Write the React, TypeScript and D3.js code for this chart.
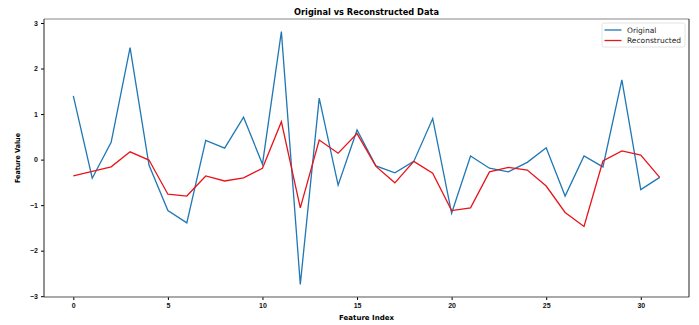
import { useEffect, useRef } from 'react'
import * as d3 from 'd3'

const featureIndex = d3.range(32)

const original = [
  1.40, -0.41, 0.38, 2.46, -0.12, -1.12, -1.39, 0.42, 0.25, 0.93,
  -0.10, 2.81, -2.74, 1.35, -0.56, 0.65, -0.14, -0.29, -0.04, 0.90,
  -1.18, 0.08, -0.19, -0.27, -0.06, 0.26, -0.80, 0.08, -0.16, 1.75,
  -0.66, -0.39
]

const reconstructed = [
  -0.36, -0.26, -0.16, 0.17, -0.01, -0.76, -0.80, -0.36, -0.47, -0.40,
  -0.19, 0.83, -1.06, 0.43, 0.14, 0.57, -0.15, -0.51, -0.04, -0.30,
  -1.12, -1.06, -0.27, -0.17, -0.23, -0.58, -1.16, -1.47, -0.03, 0.19,
  0.10, -0.39
]

const xTicks = [0, 5, 10, 15, 20, 25, 30]
const yTicks = [-3, -2, -1, 0, 1, 2, 3]

const series = [
  { name: 'Original', values: original, color: '#1f77b4' },
  { name: 'Reconstructed', values: reconstructed, color: '#e8141b' }
]

export default function App() {
  const svgRef = useRef<SVGSVGElement>(null)

  useEffect(() => {
    const width = 699
    const height = 325
    const margin = { top: 19, right: 10, bottom: 28, left: 44 }

    const svg = d3.select(svgRef.current)
      .attr('width', width)
      .attr('height', height)
      .style('display', 'block')
      .style('font-family', '"DejaVu Sans", sans-serif')

    svg.selectAll('*').remove()

    const all = original.concat(reconstructed)
    const yMin = d3.min(all) as number
    const yMax = d3.max(all) as number
    const yPad = (yMax - yMin) * 0.05

    const x = d3.scaleLinear()
      .domain([-1.55, 32.55])
      .range([margin.left, width - margin.right])

    const y = d3.scaleLinear()
      .domain([yMin - yPad, yMax + yPad])
      .range([height - margin.bottom, margin.top])

    const g = svg.append('g')

    // lines
    const line = d3.line<number>()
      .x((d, i) => x(featureIndex[i]))
      .y(d => y(d))

    series.forEach(s => {
      g.append('path')
        .datum(s.values)
        .attr('fill', 'none')
        .attr('stroke', s.color)
        .attr('stroke-width', 1.3)
        .attr('d', line)
    })

    // X axis
    const xAxis = g.append('g')
      .attr('transform', `translate(0,${height - margin.bottom})`)
      .call(d3.axisBottom(x).tickValues(xTicks).tickSize(3).tickPadding(3).tickFormat(d3.format('d')))
    xAxis.select('.domain').remove()
    xAxis.selectAll('text')
      .attr('fill', '#111')
      .attr('font-size', 7)
      .attr('font-weight', 'bold')

    // Y axis
    const yAxis = g.append('g')
      .attr('transform', `translate(${margin.left},0)`)
      .call(d3.axisLeft(y).tickValues(yTicks).tickSize(3).tickPadding(3).tickFormat(d => d3.format('d')(d as number).replace('-', '\u2212')))
    yAxis.select('.domain').remove()
    yAxis.selectAll('text')
      .attr('fill', '#111')
      .attr('font-size', 7)
      .attr('font-weight', 'bold')

    // spines
    const x0 = margin.left
    const x1 = width - margin.right
    const y0 = margin.top
    const y1 = height - margin.bottom
    g.append('line').attr('x1', x0).attr('x2', x1).attr('y1', y0).attr('y2', y0)
      .attr('stroke', '#888').attr('stroke-width', 1.2)
    g.append('line').attr('x1', x0).attr('x2', x1).attr('y1', y1).attr('y2', y1)
      .attr('stroke', '#555').attr('stroke-width', 1.2)
    g.append('line').attr('x1', x0).attr('x2', x0).attr('y1', y0).attr('y2', y1)
      .attr('stroke', '#222').attr('stroke-width', 1)
    g.append('line').attr('x1', x1).attr('x2', x1).attr('y1', y0).attr('y2', y1)
      .attr('stroke', '#222').attr('stroke-width', 1)

    // title and labels
    svg.append('text')
      .attr('x', (x0 + x1) / 2)
      .attr('y', 15)
      .attr('text-anchor', 'middle')
      .attr('font-size', 8.5)
      .attr('font-weight', 'bold')
      .attr('textLength', 145)
      .attr('lengthAdjust', 'spacingAndGlyphs')
      .text('Original vs Reconstructed Data')

    svg.append('text')
      .attr('x', (x0 + x1) / 2)
      .attr('y', 320)
      .attr('text-anchor', 'middle')
      .attr('font-size', 7)
      .attr('font-weight', 'bold')
      .attr('textLength', 55)
      .attr('lengthAdjust', 'spacingAndGlyphs')
      .text('Feature Index')

    svg.append('text')
      .attr('transform', `translate(20,${(y0 + y1) / 2}) rotate(-90)`)
      .attr('text-anchor', 'middle')
      .attr('font-size', 7)
      .attr('font-weight', 'bold')
      .attr('textLength', 50)
      .attr('lengthAdjust', 'spacingAndGlyphs')
      .text('Feature Value')

    // legend
    const legend = svg.append('g').attr('transform', 'translate(602,23)')
    legend.append('rect')
      .attr('width', 83)
      .attr('height', 24)
      .attr('rx', 2)
      .attr('fill', '#fff')
      .attr('stroke', '#ddd')
      .attr('stroke-width', 0.8)
    series.forEach((s, i) => {
      const ly = 7 + i * 10.5
      legend.append('line')
        .attr('x1', 2.5).attr('x2', 19.5)
        .attr('y1', ly).attr('y2', ly)
        .attr('stroke', s.color)
        .attr('stroke-width', 1.3)
      legend.append('text')
        .attr('x', 25)
        .attr('y', ly + 2.6)
        .attr('font-size', 7.5)
        .attr('fill', '#222')
        .text(s.name)
    })
  }, [])

  return <svg ref={svgRef} style={{ position: 'absolute', left: 0, top: 0 }}></svg>
}
